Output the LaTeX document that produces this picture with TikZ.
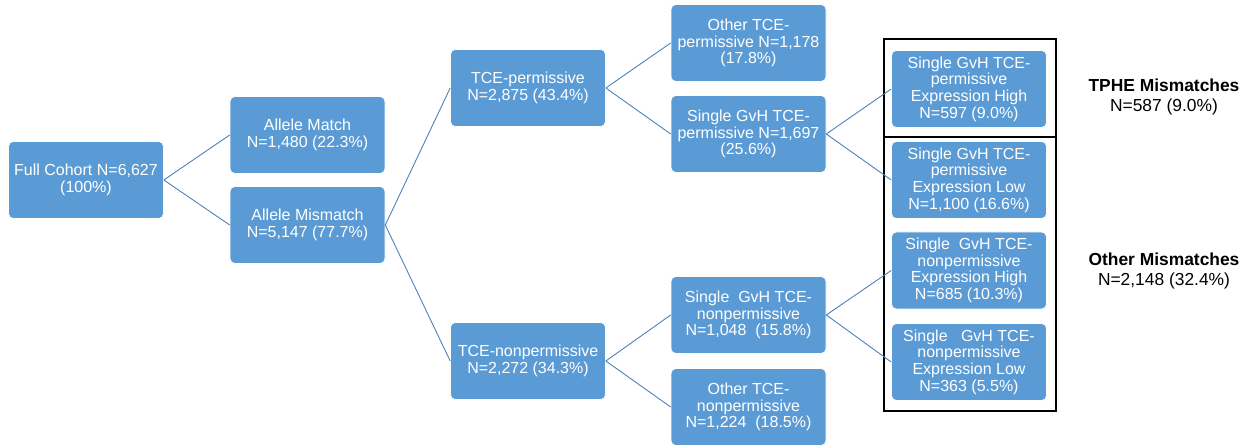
\documentclass[tikz,border=0pt]{standalone}
\usepackage{fontspec}
\setmainfont{Liberation Sans}
\definecolor{boxblue}{HTML}{5B9BD5}
\definecolor{lineblue}{HTML}{4F81BD}
\newcommand{\boxfont}{\fontsize{16}{16.6}\selectfont}
\newcommand{\tagfont}{\fontsize{17.4}{20.5}\selectfont}

\begin{document}
\begin{tikzpicture}[x=1pt, y=-1pt,
    grp/.style={draw=white, line width=0.6pt, fill=boxblue, rounded corners=5pt,
      minimum width=155pt, minimum height=77pt, inner sep=0pt,
      align=center, text=white, font=\boxfont},
    link/.style={draw=lineblue, line width=0.9pt},
    tag/.style={align=center, font=\tagfont}]
    \useasboundingbox (0,0) rectangle (1255,446);
    % first two levels
    \node[grp] (full) at (86, 180) {Full Cohort N=6,627\\(100\%)};
    \node[grp] (match) at (307.5, 135) {Allele Match\\N=1,480 (22.3\%)};
    \node[grp] (mism) at (307.5, 225) {Allele Mismatch\\N=5,147 (77.7\%)};
    \node[grp] (perm) at (528, 88) {TCE-permissive\\N=2,875 (43.4\%)};
    \node[grp] (nonp) at (528, 361) {TCE-nonpermissive\\N=2,272 (34.3\%)};
    % third level
    \node[grp] (operm) at (748.5, 43) {Other TCE-\\permissive N=1,178\\(17.8\%)};
    \node[grp] (sperm) at (748.5, 134) {Single GvH TCE-\\permissive N=1,697\\(25.6\%)};
    \node[grp] (snonp) at (748.5, 315) {Single\ \ GvH TCE-\\nonpermissive\\N=1,048\ \ (15.8\%)};
    \node[grp] (ononp) at (748.5, 407) {Other TCE-\\nonpermissive\\N=1,224\ \ (18.5\%)};
    % expression level
    \node[grp] (phigh) at (969, 89) {Single GvH TCE-\\permissive\\Expression High\\N=597 (9.0\%)};
    \node[grp] (plow) at (969, 180) {Single GvH TCE-\\permissive\\Expression Low\\N=1,100 (16.6\%)};
    \node[grp] (nhigh) at (969, 270.5) {Single\ \ GvH TCE-\\nonpermissive\\Expression High\\N=685 (10.3\%)};
    \node[grp] (nlow) at (969, 362) {Single\ \ \ GvH TCE-\\nonpermissive\\Expression Low\\N=363 (5.5\%)};
    % frames and totals
    \draw[line width=1.2pt] (884, 39) rectangle (1056, 137);
    \draw[line width=1.2pt] (884, 137) rectangle (1056, 411);
    \node[tag] (tphe) at (1164, 97) {\textbf{TPHE Mismatches}\\N=587 (9.0\%)};
    \node[tag] (other) at (1164, 271) {\textbf{Other Mismatches}\\N=2,148 (32.4\%)};
    % connectors
    \draw[link] (full.east) -- (match.west);
    \draw[link] (full.east) -- (mism.west);
    \draw[link] (mism.east) -- (perm.west);
    \draw[link] (mism.east) -- (nonp.west);
    \draw[link] (perm.east) -- (operm.west);
    \draw[link] (perm.east) -- (sperm.west);
    \draw[link] (nonp.east) -- (snonp.west);
    \draw[link] (nonp.east) -- (ononp.west);
    \draw[link] (sperm.east) -- (phigh.west);
    \draw[link] (sperm.east) -- (plow.west);
    \draw[link] (snonp.east) -- (nhigh.west);
    \draw[link] (snonp.east) -- (nlow.west);
  \end{tikzpicture}
\end{document}
